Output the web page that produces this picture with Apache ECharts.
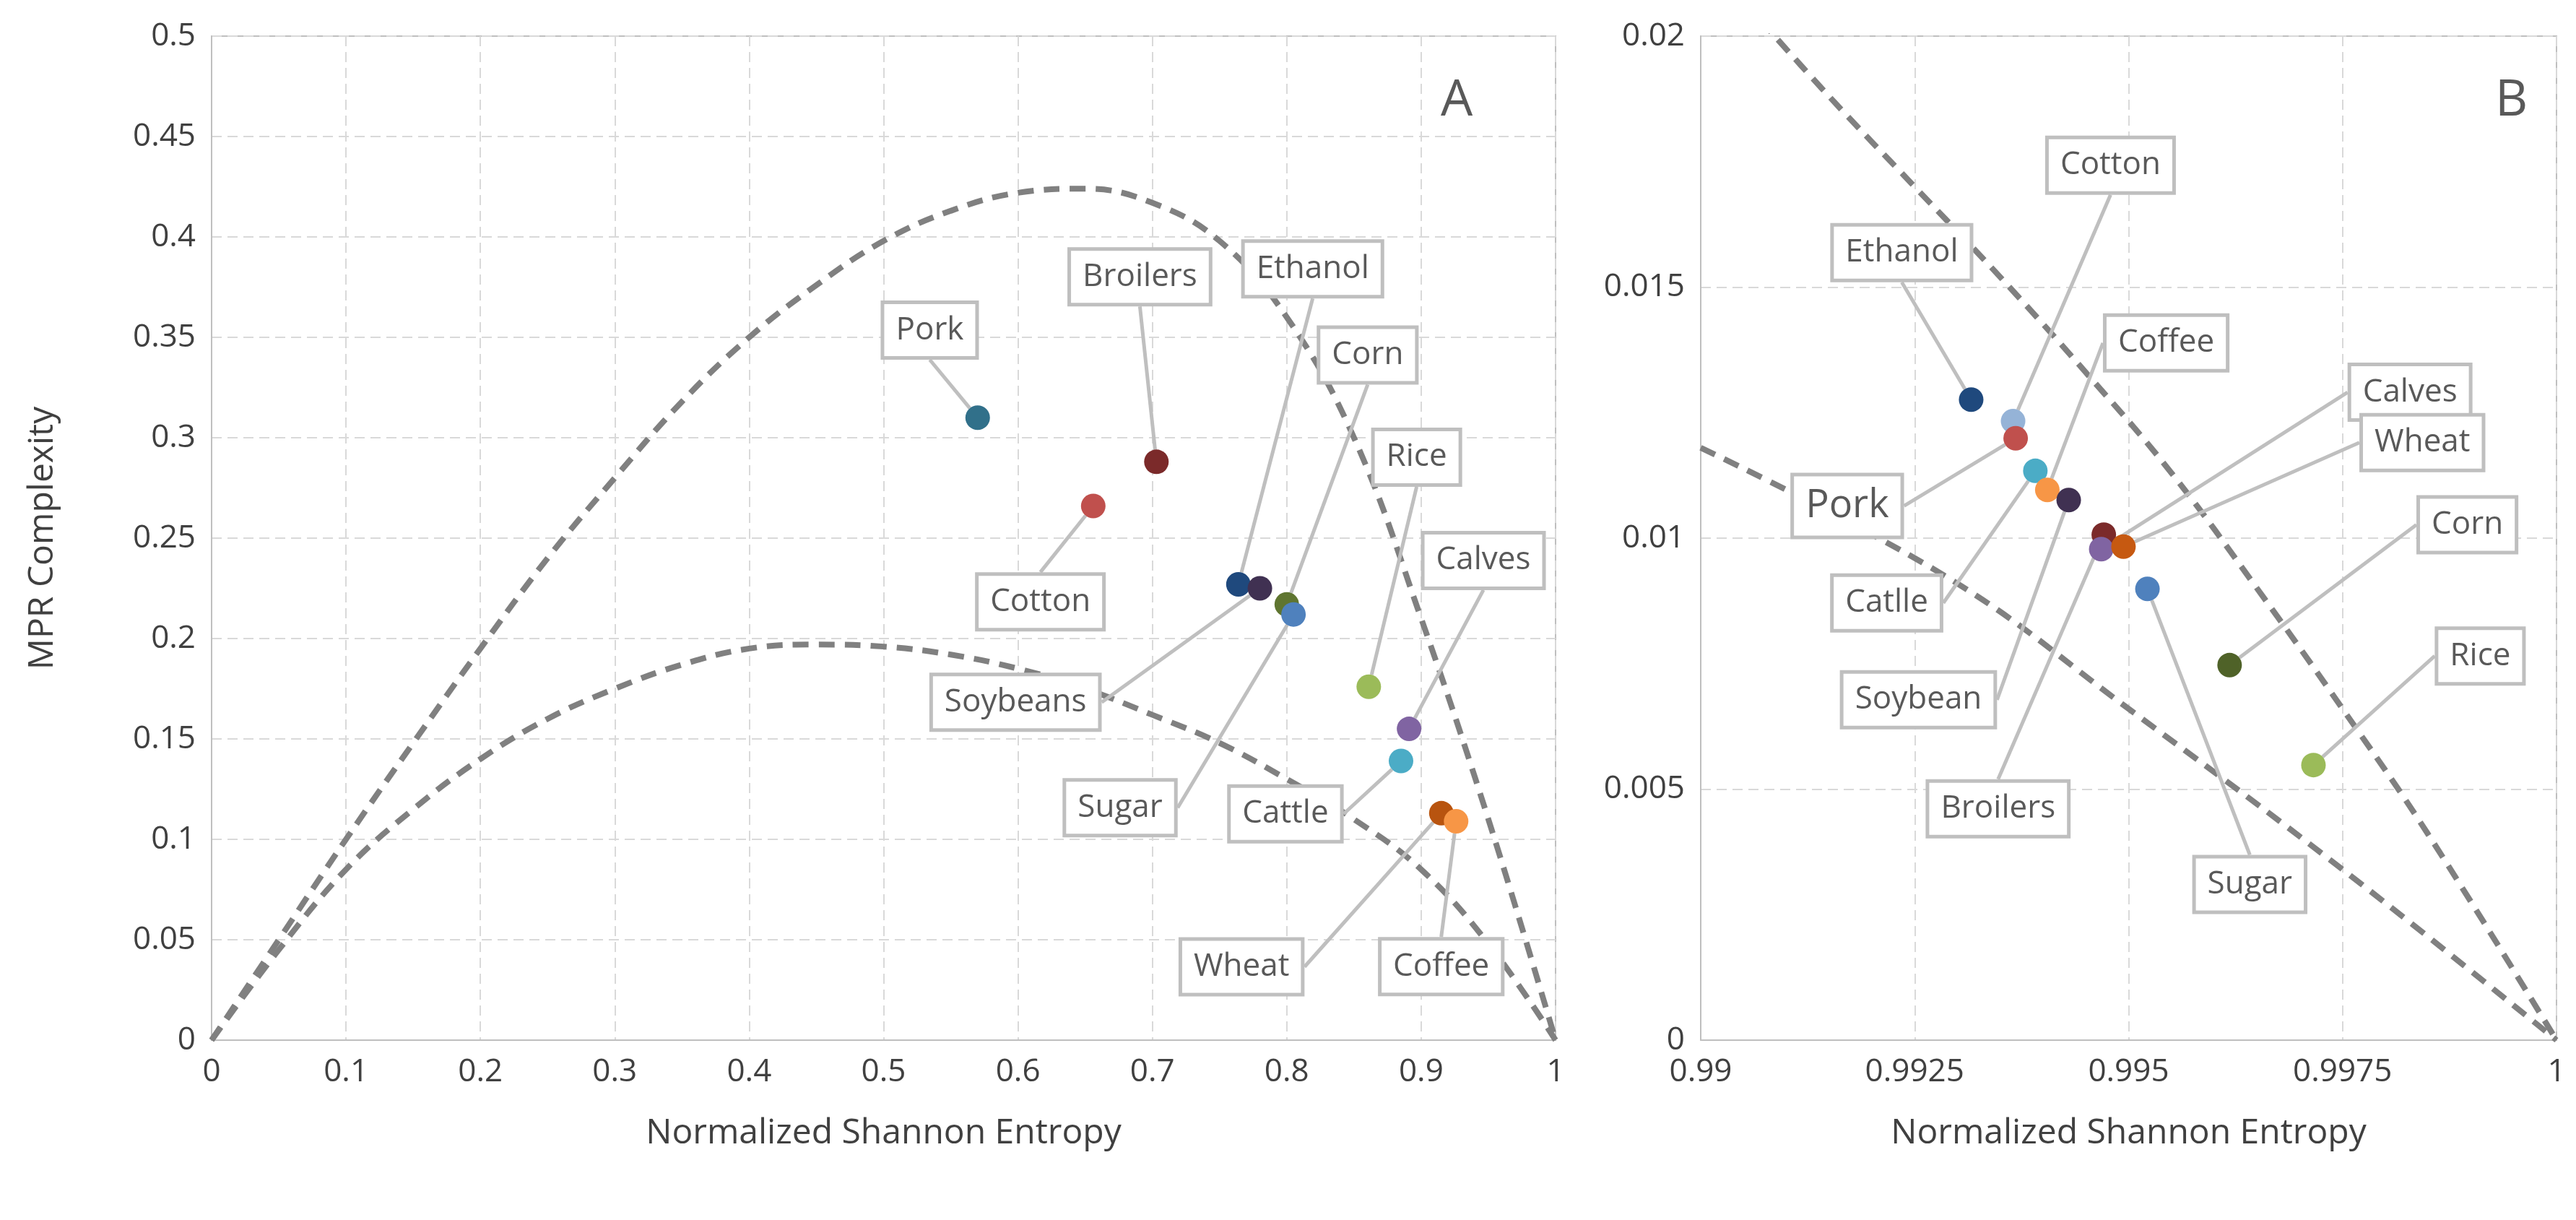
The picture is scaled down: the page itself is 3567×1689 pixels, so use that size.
<!DOCTYPE html>
<html>
<head>
<meta charset="utf-8">
<script src="https://cdn.jsdelivr.net/npm/echarts@6/dist/echarts.min.js"></script>
<style>
    html, body { margin: 0; padding: 0; background: #fff; }
    #main { width: 3567px; height: 1689px; }
</style>
</head>
<body>
<div id="main"></div>
<script>
    var S = 2.2865; // scale from picture coords to page px

    // panel A
    var namesA = ['Pork', 'Broilers', 'Cotton', 'Ethanol', 'Soybeans', 'Corn', 'Sugar', 'Rice', 'Calves', 'Cattle', 'Wheat', 'Coffee'];
    var entropyA = [0.570, 0.703, 0.656, 0.764, 0.780, 0.800, 0.805, 0.861, 0.891, 0.885, 0.915, 0.926];
    var complexityA = [0.310, 0.288, 0.266, 0.227, 0.225, 0.217, 0.212, 0.176, 0.155, 0.139, 0.113, 0.109];
    var colorsA = ['#31708a', '#7b2a2a', '#c0504d', '#1f497d', '#403152', '#5f7530', '#4f81bd', '#9bbb59', '#8064a2', '#4bacc6', '#b8540f', '#f79646'];
    var offsetsA = [[-29, -53], [-10, -112], [-32, 58], [45, -191], [-148, 69], [49, -151], [-105, 117], [29, -139], [45, -102], [-70, 32], [-121, 93], [-9, 88]];

    var maxCurveX = [0, 0.05, 0.1, 0.15, 0.2, 0.25, 0.3, 0.35, 0.4, 0.45, 0.5, 0.55, 0.6, 0.65, 0.7, 0.75, 0.8, 0.85, 0.9, 0.95, 1];
    var maxCurveY = [0, 0.05, 0.1, 0.148, 0.195, 0.24, 0.28, 0.318, 0.35, 0.376, 0.398, 0.413, 0.422, 0.424, 0.417, 0.398, 0.36, 0.3, 0.21, 0.11, 0];
    var minCurveX = [0, 0.05, 0.1, 0.15, 0.2, 0.25, 0.3, 0.35, 0.4, 0.45, 0.5, 0.55, 0.6, 0.65, 0.7, 0.75, 0.8, 0.85, 0.9, 0.95, 1];
    var minCurveY = [0, 0.045, 0.085, 0.115, 0.14, 0.16, 0.175, 0.187, 0.195, 0.197, 0.196, 0.192, 0.185, 0.175, 0.162, 0.148, 0.13, 0.11, 0.085, 0.048, 0];

    // panel B
    var namesB = ['Ethanol', 'Cotton', 'Pork', 'Catlle', 'Coffee', 'Soybean', 'Broilers', 'Calves', 'Wheat', 'Sugar', 'Corn', 'Rice'];
    var entropyB = [0.99316, 0.99365, 0.99368, 0.99391, 0.99405, 0.99430, 0.99471, 0.99468, 0.99494, 0.99522, 0.99618, 0.99716];
    var complexityB = [0.01276, 0.01233, 0.01199, 0.01134, 0.01096, 0.01076, 0.01007, 0.00978, 0.00983, 0.00899, 0.00747, 0.00548];
    var colorsB = ['#1f497d', '#95b3d7', '#c0504d', '#4bacc6', '#f79646', '#403152', '#7b2a2a', '#8064a2', '#c65911', '#4f81bd', '#4f6228', '#9bbb59'];
    var offsetsB = [[-42, -89], [59, -155], [-102, 41], [-90, 80], [72, -89], [-91, 121], [-64, 166], [187, -95], [181, -63], [62, 179], [144, -85], [101, -66]];

    var maxCurveBX = [0.9905, 0.9915, 0.9925, 0.9935, 0.9945, 0.9955, 0.9965, 0.9975, 0.9985, 1];
    var maxCurveBY = [0.0207, 0.0188, 0.0170, 0.0152, 0.0133, 0.0113, 0.0090, 0.0066, 0.0041, 0];
    var minCurveBX = [0.99, 0.9929, 0.995, 0.9975, 1];
    var minCurveBY = [0.0118, 0.0092, 0.0066, 0.0034, 0];

    function pairs(xs, ys) {
        return xs.map(function (x, i) { return [x, ys[i]]; });
    }

    var font = 'Open Sans';
    var gray = '#595959';

    function makeAxis(grid, min, max, interval, name, isX) {
        var ax = {
            gridIndex: grid, type: 'value', min: min, max: max, interval: interval,
            axisLine: { show: true, lineStyle: { color: '#bfbfbf', width: 2 } },
            axisTick: { show: false },
            axisLabel: { color: '#404040', fontSize: 44, fontFamily: font, margin: 22 },
            splitLine: { show: true, lineStyle: { color: '#d9d9d9', type: [14, 8], width: 2 } }
        };
        if (name) {
            ax.name = name;
            ax.nameLocation = 'middle';
            ax.nameTextStyle = { color: '#404040', fontSize: 48, fontFamily: font };
            ax.nameGap = isX ? 105 : 210;
        }
        return ax;
    }

    function pointSeries(names, xs, ys, colors, offsets, xi, fontSizes) {
        return {
            type: 'scatter', xAxisIndex: xi, yAxisIndex: xi, symbolSize: 34, z: 5,
            data: names.map(function (n, i) {
                return {
                    name: n, value: [xs[i], ys[i]],
                    itemStyle: { color: colors[i], opacity: 1 },
                    label: fontSizes && fontSizes[i] ? { fontSize: fontSizes[i] } : undefined
                };
            }),
            label: {
                show: true, position: 'inside', formatter: '{b}',
                color: gray, fontSize: 44, fontFamily: font,
                backgroundColor: '#fff', borderColor: '#bfbfbf', borderWidth: 5,
                padding: [14, 16]
            },
            labelLine: { show: true, lineStyle: { color: '#bfbfbf', width: 5 } },
            labelLayout: function (p) {
                var o = offsets[p.dataIndex];
                return { dx: o[0] * S, dy: o[1] * S };
            }
        };
    }

    function curve(data, xi) {
        return {
            type: 'line', xAxisIndex: xi, yAxisIndex: xi, data: data, smooth: 0.4,
            symbol: 'none', silent: true, z: 3,
            lineStyle: { color: '#808080', width: 8, type: [22, 14] }
        };
    }

    var chart = echarts.init(document.getElementById('main'));
    chart.setOption({
        backgroundColor: '#fff',
        animation: false,
        grid: [
            { left: 293, right: 1413, top: 50, bottom: 249, show: true, borderColor: '#bfbfbf', borderWidth: 2 },
            { left: 2355, right: 27, top: 50, bottom: 249, show: true, borderColor: '#bfbfbf', borderWidth: 2 }
        ],
        xAxis: [
            makeAxis(0, 0, 1, 0.1, 'Normalized Shannon Entropy', true),
            makeAxis(1, 0.99, 1, 0.0025, 'Normalized Shannon Entropy', true)
        ],
        yAxis: [
            makeAxis(0, 0, 0.5, 0.05, 'MPR Complexity', false),
            makeAxis(1, 0, 0.02, 0.005, null, false)
        ],
        graphic: [
            { type: 'text', left: 1995, top: 105, style: { text: 'A', fontSize: 70, fill: gray, fontFamily: font } },
            { type: 'text', left: 3455, top: 105, style: { text: 'B', fontSize: 70, fill: gray, fontFamily: font } }
        ],
        series: [
            curve(pairs(maxCurveX, maxCurveY), 0),
            curve(pairs(minCurveX, minCurveY), 0),
            curve(pairs(maxCurveBX, maxCurveBY), 1),
            curve(pairs(minCurveBX, minCurveBY), 1),
            pointSeries(namesA, entropyA, complexityA, colorsA, offsetsA, 0),
            pointSeries(namesB, entropyB, complexityB, colorsB, offsetsB, 1, [0, 0, 54])
        ]
    });
</script>
</body>
</html>
